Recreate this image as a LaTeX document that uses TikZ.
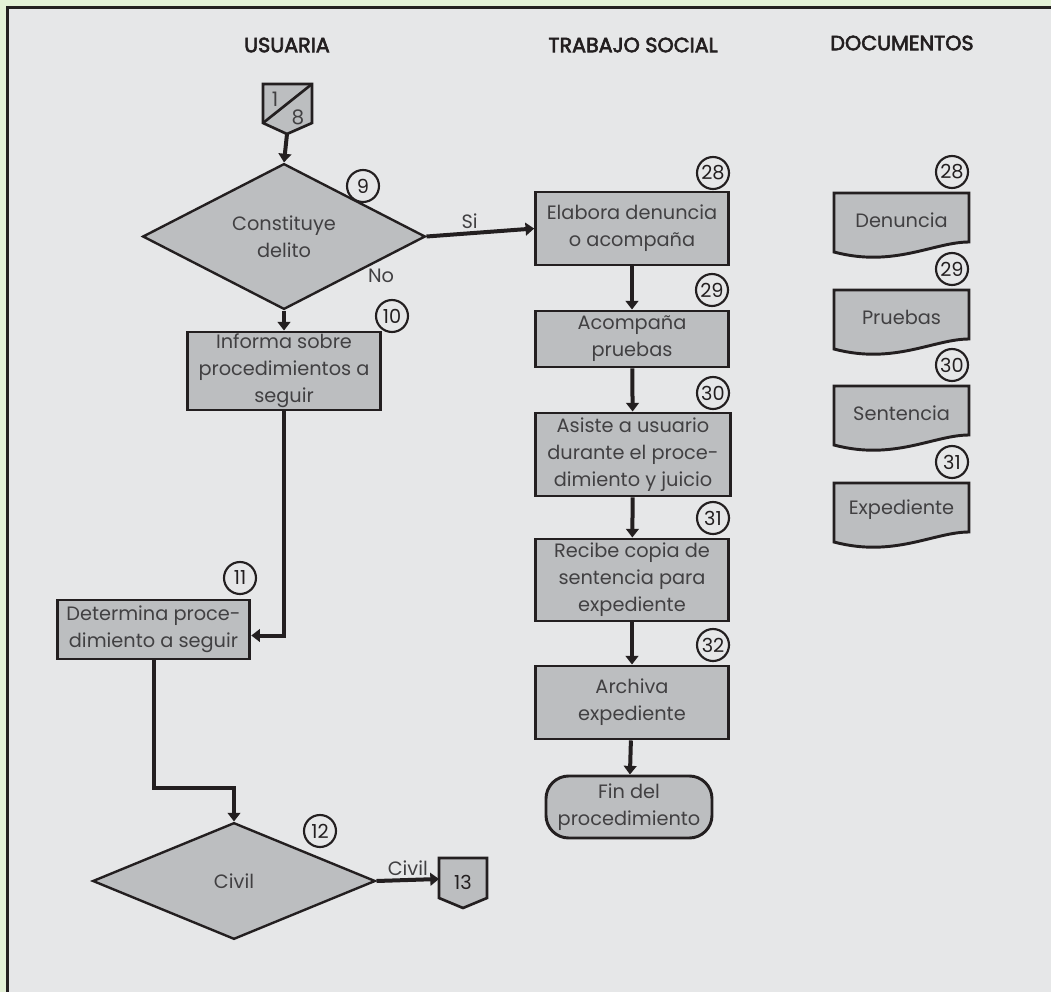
\documentclass[tikz,border=0pt]{standalone}
\usepackage{fontspec}
\setmainfont{Poppins}
\usetikzlibrary{shapes.geometric, arrows.meta, calc}
\definecolor{bggreen}{HTML}{E3F0D6}
\definecolor{panel}{HTML}{E6E7E8}
\definecolor{shapefill}{HTML}{BCBEC0}
\definecolor{ink}{HTML}{231F20}
\definecolor{txt}{HTML}{414042}
\newcommand{\bodyfont}{\fontsize{14.5}{20.3}\selectfont}
% slightly heavier lane titles: fill and stroke the glyphs
\newcommand{\lanetext}[1]{\special{pdf:literal direct 2 Tr 0.45 w}#1\special{pdf:literal direct 0 Tr}}
\begin{document}
\begin{tikzpicture}[x=0.75pt, y=-0.75pt,
  proc/.style={draw=ink, fill=shapefill, line width=2.2pt, minimum width=144.5pt,
    inner sep=0pt, align=center, text=txt, font=\bodyfont},
  decision/.style={diamond, draw=ink, fill=shapefill, line width=1.8pt, inner sep=0pt,
    minimum width=212pt, minimum height=87.5pt, text=txt, font=\bodyfont, align=center},
  terminal/.style={draw=ink, fill=shapefill, line width=2.2pt, rounded corners=17pt,
    minimum width=124.5pt, minimum height=46.5pt, inner sep=0pt, align=center,
    text=txt, font=\bodyfont},
  numc/.style={circle, draw=ink, line width=1.6pt, minimum size=24pt, inner sep=0pt,
    text=ink, font=\fontsize{14.5}{14.5}\selectfont},
  lane/.style={text=ink, font=\fontsize{15.5}{18}\selectfont},
  lbl/.style={text=txt, font=\bodyfont, inner sep=1pt},
  flow/.style={draw=ink, line width=3pt, -{Triangle[length=6.5pt,width=9.5pt]}},
  offpage/.style={draw=ink, fill=shapefill, line width=2pt, line join=miter},
  docshape/.style={draw=ink, fill=shapefill, line width=2.2pt},
  doctext/.style={text=txt, font=\bodyfont, inner sep=0pt}]

% page and panel
\useasboundingbox (0,0) rectangle (1051,992);
\fill[bggreen] (0,0) rectangle (1051,992);
\fill[panel] (7.5,7.5) rectangle (1051,992);
\draw[ink, line width=1.9pt] (7.5,992) -- (7.5,7.5) -- (1051,7.5);

% incoming off-page connector 1/8
\filldraw[offpage] (263,84) -- (312,84) -- (312,123) -- (287,134) -- (263,123) -- cycle;
\draw[ink, line width=2pt] (263,123) -- (312,84);
\node[lbl, font=\fontsize{15}{15}\selectfont] (p1) at (275,99) {1};
\node[lbl, font=\fontsize{15}{15}\selectfont] (p8) at (298,117) {8};
\coordinate (c18) at (287,134);

% usuaria column
\node[decision] (d9) at (284,236.5) {Constituye\\delito};
\node[numc] (n9) at (363,186) {9};
\node[proc, minimum height=58.5pt] (b10) at (284,371) {Informa sobre\\procedimientos a\\seguir};
\node[numc] (n10) at (392,316) {10};
\node[proc, minimum height=44.25pt] (b11) at (153.5,629.5) {Determina proce-\\dimiento a seguir};
\node[numc] (n11) at (240,578) {11};
\node[decision] (d12) at (234,881) {Civil};
\node[numc] (n12) at (320,831) {12};
\node[lbl] (no) at (381,276) {No};

% outgoing off-page connector 13
\filldraw[offpage] (439,858) -- (487,858) -- (487,898) -- (463,908) -- (439,898) -- cycle;
\node[lbl, font=\fontsize{14.5}{15}\selectfont, text=ink] (c13) at (463,882) {13};
\coordinate (c13in) at (439,879);

% trabajo social column
\node[proc, minimum height=54.75pt] (b28) at (632,228.5) {Elabora denuncia\\o acompaña};
\node[numc] (n28) at (713,173) {28};
\node[proc, minimum height=42pt] (b29) at (632,339) {Acompaña\\pruebas};
\node[numc] (n29) at (712,290) {29};
\node[proc, minimum height=62.25pt, minimum width=146pt] (b30) at (633,454.5) {Asiste a usuario\\durante el proce-\\dimiento y juicio};
\node[numc] (n30) at (713,393) {30};
\node[proc, minimum height=61.5pt] (b31) at (632,580) {Recibe copia de\\sentencia para\\expediente};
\node[numc] (n31) at (713,518) {31};
\node[proc, minimum height=54.75pt] (b32) at (632,702.5) {Archiva\\expediente};
\node[numc] (n32) at (713,645) {32};
\node[terminal] (fin) at (629,807) {Fin del\\procedimiento};

% documentos column
\foreach \n/\yy/\t in {28/193/Denuncia, 29/290/Pruebas, 30/386/Sentencia, 31/483/Expediente}{
  \begin{scope}[shift={(834,\yy)}]
    \filldraw[docshape] (0,0) -- (135,0) -- (135,49)
      .. controls (100,49) and (60,75) .. (0,59) -- cycle;
    \node[doctext] (doc\n) at (67.5,27) {\t};
  \end{scope}
  \node[numc] (ndoc\n) at (952,\yy-21) {\n};
}

% connectors
\draw[flow] (c18) -- (d9.north);
\draw[flow] (d9.east) -- node[lbl, pos=0.4, above=1pt] (si) {Si} (b28.west);
\draw[flow] (d9.south) -- (b10.north);
\draw[flow] (b10.south) |- ($(b11.east)+(0,6)$);
\draw[flow] (b11.south) -- ++(0,128) -| (d12.north);
\draw[flow] (d12.east) -- node[lbl, above=1pt] (civ) {Civil} (c13in);
\draw[flow] (b28) -- (b29);
\draw[flow] (b29) -- (b30);
\draw[flow] (b30) -- (b31);
\draw[flow] (b31) -- (b32);
\draw[flow] (b32) -- (fin);

% lane titles
\node[lane] (hU) at (287,45) {\lanetext{USUARIA}};
\node[lane] (hT) at (633,45) {\lanetext{TRABAJO SOCIAL}};
\node[lane] (hD) at (902,43) {\lanetext{DOCUMENTOS}};
\end{tikzpicture}
\end{document}
